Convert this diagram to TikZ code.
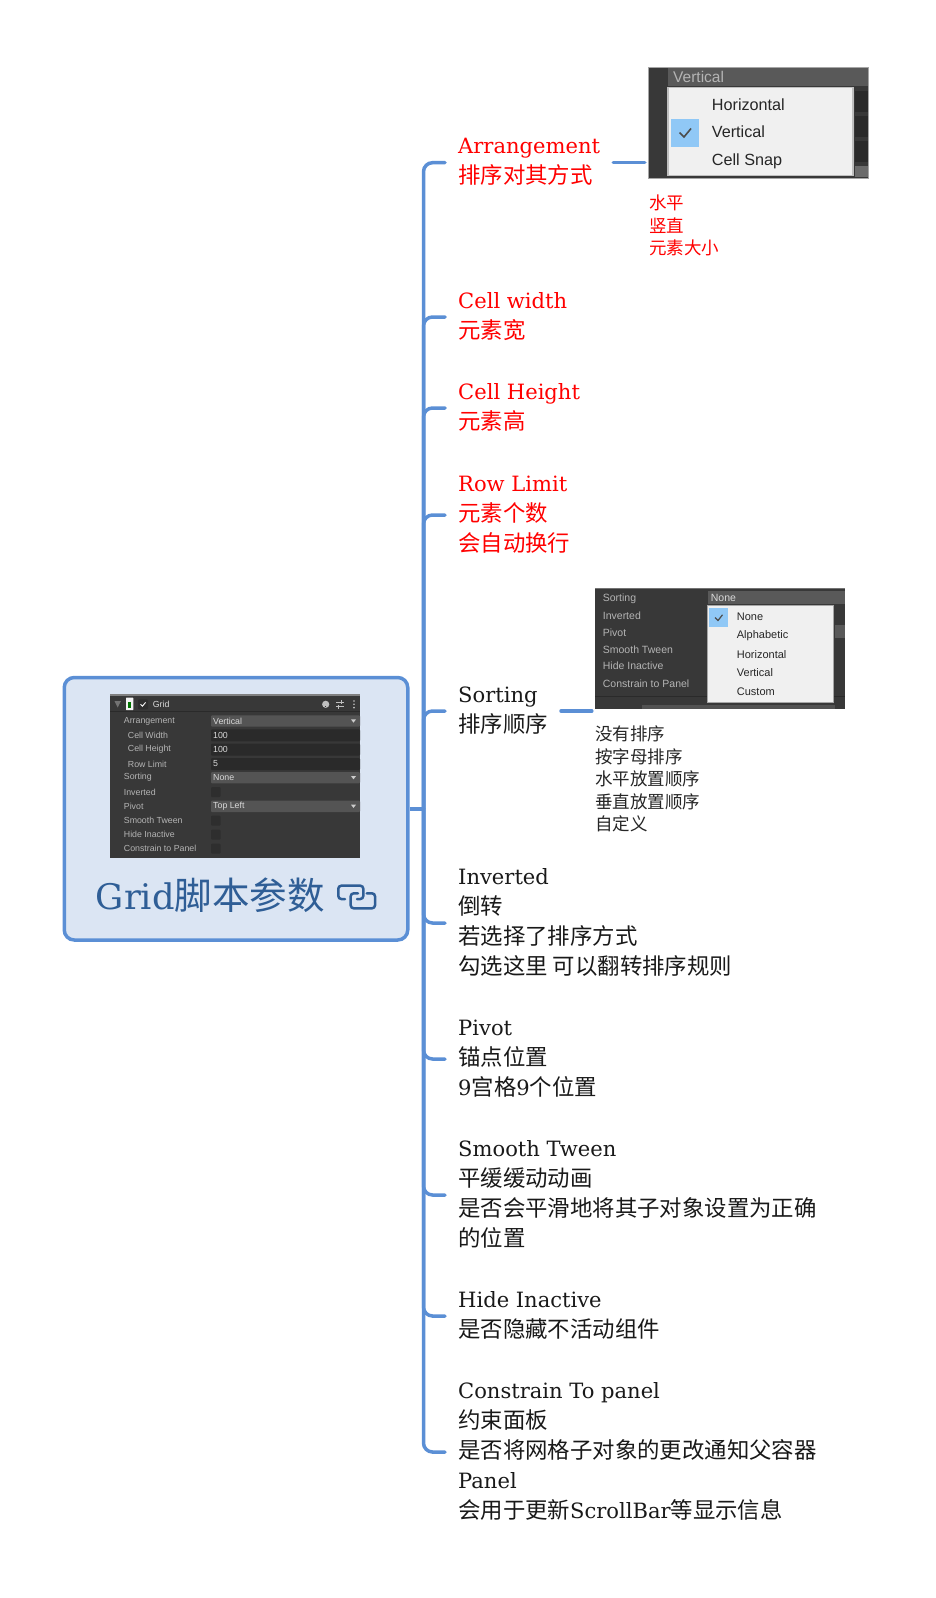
\documentclass[tikz,border=0pt]{standalone}
\usepackage{fontspec}
\setmainfont[Scale=0.94]{DejaVu Serif}
\newfontfamily\cjk{Noto Sans CJK SC}
\newfontfamily\uifont{Liberation Sans}
\usetikzlibrary{positioning,calc}

\definecolor{linkblue}{HTML}{5B8FD5}
\definecolor{rootfill}{HTML}{DBE5F3}
\definecolor{rootink}{HTML}{2F5E96}
\definecolor{panel}{HTML}{383838}
\definecolor{panelbar}{HTML}{545454}
\definecolor{panelfield}{HTML}{2A2A2A}
\definecolor{panelink}{HTML}{B4B4B4}
\definecolor{menufill}{HTML}{F0F0F0}
\definecolor{menutick}{HTML}{90C8F6}

\newcommand{\zh}[1]{{\cjk #1}}
\newcommand{\leaftop}{\rule{0pt}{31pt}}
\newcommand{\leafend}{\rule[-3pt]{0pt}{30.2pt}}

\begin{document}
\begin{tikzpicture}[
    x=1pt, y=-1pt,
    branch/.style={draw=linkblue, line width=3.5pt, line cap=round, rounded corners=9pt},
    rootbox/.style={rectangle, draw=linkblue, fill=rootfill, line width=3.5pt, rounded corners=10pt,
                    minimum width=343.5pt, minimum height=262.5pt, inner sep=0pt},
    rootlabel/.style={text=rootink, inner sep=0pt, font=\fontsize{37.5}{40}\selectfont},
    leaf/.style={anchor=west, align=left, inner xsep=13pt, inner ysep=0pt, text=black!90,
                 font=\fontsize{22.4}{30.2}\selectfont,
                 execute at begin node=\leaftop, execute at end node=\leafend},
    keyleaf/.style={leaf, text=red},
    note/.style={anchor=north west, align=left, inner sep=0pt, font=\fontsize{17.5}{22.4}\selectfont\cjk},
    shot/.style={rectangle, fill=panel, inner sep=0pt},
    rowlabel/.style={anchor=west, inner sep=0pt, text=panelink, font=\fontsize{8.8}{10}\selectfont\uifont},
    rowvalue/.style={anchor=west, inner sep=0pt, text=black!15, font=\fontsize{8.8}{10}\selectfont\uifont},
    item/.style={anchor=west, inner sep=0pt, text=black!85, font=\uifont},
    dropbar/.style={fill=panelbar, rounded corners=1pt},
    fieldbar/.style={fill=panelfield, rounded corners=1pt},
    tickbox/.style={fill=black!82, rounded corners=1pt}
]
\useasboundingbox (0,0) rectangle (935,1598);

% Root
\node[rootbox] (root) at (236,808.75) {};
\coordinate[right=14pt of root.east] (trunk);

% Inspector inside the root
\node[shot, minimum width=250pt, minimum height=164pt] (inspector) at (235,776) {};
\fill[black!50] (110,694) rectangle (360,695.5);
\draw[panelfield, line width=0.8pt] (110,711) -- (360,711);
\fill[black!55] (114.5,701) -- (121,701) -- (117.7,707.5) -- cycle;
\fill[black!5, rounded corners=0.5pt] (126,697.7) rectangle (133.3,710);
\fill[green!45!black] (128.2,702) rectangle (131.2,708);
\node[tickbox, minimum size=10pt, inner sep=0pt] (gridtick) at (143,704.3) {};
\draw[white, line width=0.9pt] (140.5,704.3) -- (142.4,706.2) -- (145.6,702.4);
\node[rowlabel, text=black!15] (gridname) at (152.7,704.3) {Grid};
\fill[black!25] (325.7,704.3) circle (3.6pt);
\fill[panel] (325.2,705.6) rectangle (326.2,706.6);
\draw[black!25, line width=0.9pt] (336,702) -- (344,702) (336,706.5) -- (344,706.5) (341.5,700) -- (341.5,704) (338.5,704.5) -- (338.5,708.5);
\foreach \y in {701,704.3,707.6}
    \fill[black!25] (354,\y) circle (0.9pt);

% dropdown and number fields
\foreach \y in {721,777.7,806.3} {
    \fill[dropbar] (211,\y-5.7) rectangle (360,\y+5.7);
    \fill[black!20] (351,\y-1.6) -- (356,\y-1.6) -- (353.5,\y+1.6) -- cycle;
}
\foreach \y in {735.3,749.7,764}
    \fill[fieldbar] (211,\y-6) rectangle (360,\y+6);
\foreach \y in {792,820.7,834.7,848.7}
    \fill[black!82, rounded corners=1pt] (211,\y-5) rectangle (220.7,\y+5);

\foreach \y/\kx/\txt [count=\n] in {721/123.7/Arrangement, 735.3/127.7/Cell Width, 749.7/127.7/Cell Height,
        764/127.7/Row Limit, 777.7/123.7/Sorting, 792/123.7/Inverted, 806.3/123.7/Pivot,
        820.7/123.7/Smooth Tween, 834.7/123.7/Hide Inactive, 848.7/123.7/Constrain to Panel}
    \node[rowlabel] (row\n) at (\kx,\y) {\txt};

\foreach \y/\txt [count=\n] in {721/Vertical, 735.3/100, 749.7/100, 764/5, 777.7/None, 806.3/Top Left}
    \node[rowvalue] (val\n) at (213,\y) {\txt};

% Root title
\node[rootlabel, anchor=base west] (title) at (95.7,909) {Grid\zh{脚本参数}};
\draw[rootink, line width=2.5pt, rounded corners=3pt, line cap=round]
    (345,899) -- (338.3,899) -- (338.3,885.7) -- (363.3,885.7) -- (363.3,899) -- (357,899);
\draw[rootink, line width=2.5pt, rounded corners=3pt, line cap=round]
    (366.7,893.3) -- (375,893.3) -- (375,908.3) -- (350.7,908.3) -- (350.7,893.3) -- (358,893.3);

% Leaves
\node[keyleaf] (arrange) at (445,162.7) {Arrangement\\\zh{排序对其方式}};
\node[keyleaf] (cellwidth) at (445,317) {Cell width\\\zh{元素宽}};
\node[keyleaf] (cellheight) at (445,408) {Cell Height\\\zh{元素高}};
\node[keyleaf] (rowlimit) at (445,515) {Row Limit\\\zh{元素个数}\\\zh{会自动换行}};
\node[leaf] (sorting) at (445,711) {Sorting\\\zh{排序顺序}};
\node[leaf] (inverted) at (445,923) {Inverted\\\zh{倒转}\\\zh{若选择了排序方式}\\\zh{勾选这里 可以翻转排序规则}};
\node[leaf] (pivot) at (445,1059) {Pivot\\\zh{锚点位置}\\9\zh{宫格}9\zh{个位置}};
\node[leaf] (smooth) at (445,1195) {Smooth Tween\\\zh{平缓缓动动画}\\\zh{是否会平滑地将其子对象设置为正确}\\\zh{的位置}};
\node[leaf] (hide) at (445,1316) {Hide Inactive\\\zh{是否隐藏不活动组件}};
\node[leaf] (constrain) at (445,1452) {Constrain To panel\\\zh{约束面板}\\\zh{是否将网格子对象的更改通知父容器}\\Panel\\\zh{会用于更新}ScrollBar\zh{等显示信息}};

% Connectors
\draw[branch, line cap=butt] (root.east) -- (trunk);
\foreach \leafname in {arrange,cellwidth,cellheight,rowlimit,sorting,inverted,pivot,smooth,hide,constrain}
    \draw[branch] (trunk) |- (\leafname.west);

% Arrangement screenshot
\node[shot, minimum width=220pt, minimum height=111pt, fill=black!78] (shotarrange) at (758,122.5) {};
\fill[black!65] (668,68) rectangle (868,86);
\foreach \y in {91,116,141}
    \fill[panelfield] (855,\y) rectangle (868,\y+21);
\fill[black!58] (855,166) rectangle (868,177);
\draw[black!35, line width=1pt] (648,67) rectangle (868,178);
\node[rowlabel, anchor=base west, font=\fontsize{15.5}{17}\selectfont\uifont] (arrangecap) at (673,82) {Vertical};
\node[rectangle, draw=black!25, fill=menufill, line width=1.2pt, minimum width=185pt, minimum height=88pt, inner sep=0pt] (arrangemenu) at (760.5,131.7) {};
\fill[menutick] (671,118.7) rectangle (699,146.7);
\draw[black!70, line width=1.6pt] (679.5,132.5) -- (684,137) -- (691,128.5);
\foreach \y/\txt [count=\n] in {110/Horizontal, 137.3/Vertical, 165/Cell Snap}
    \node[item, anchor=base west, font=\fontsize{16.2}{18}\selectfont\uifont] (arrangeitem\n) at (711.7,\y) {\txt};
\draw[branch, shorten >=3pt] (arrange.east) -- (arrange.east -| shotarrange.west);
\node[note, text=red] (arrangenote) at (649,195) {水平\\竖直\\元素大小};

% Sorting screenshot
\node[shot, minimum width=250pt, minimum height=121pt] (shotsorting) at (720,648.5) {};
\fill[black!55] (595,588) rectangle (845,589);
\fill[black!65] (708,590.7) rectangle (845,604.3);
\fill[black!65] (835,625) rectangle (845,638);
\draw[panelfield, line width=0.8pt] (595,696.7) -- (845,696.7);
\fill[black!68] (642,705) rectangle (835,709);
\foreach \y/\txt [count=\n] in {598.3/Sorting, 615.3/Inverted, 632.3/Pivot, 649.3/Smooth Tween, 666/Hide Inactive, 683.3/Constrain to Panel}
    \node[rowlabel, font=\fontsize{10.5}{12}\selectfont\uifont] (sortrow\n) at (602.7,\y) {\txt};
\node[rowvalue, font=\fontsize{10.5}{12}\selectfont\uifont] (sortcap) at (710.7,597.5) {None};
\node[rectangle, draw=black!35, fill=menufill, line width=1pt, minimum width=125.7pt, minimum height=96.6pt, inner sep=0pt] (sortmenu) at (770.2,654) {};
\fill[menutick] (709.3,608) rectangle (728,626.7);
\draw[black!70, line width=1.2pt] (715,617.5) -- (718,620.5) -- (722.5,614.8);
\foreach \y/\txt [count=\n] in {617/None, 635.7/Alphabetic, 654.3/Horizontal, 673/Vertical, 691.7/Custom}
    \node[item, font=\fontsize{11}{13}\selectfont\uifont] (sortitem\n) at (736.7,\y) {\txt};
\draw[branch, shorten >=3pt] (sorting.east) -- (sorting.east -| shotsorting.west);
\node[note, text=black!85] (sortingnote) at (595,726) {没有排序\\按字母排序\\水平放置顺序\\垂直放置顺序\\自定义};

\end{tikzpicture}
\end{document}
